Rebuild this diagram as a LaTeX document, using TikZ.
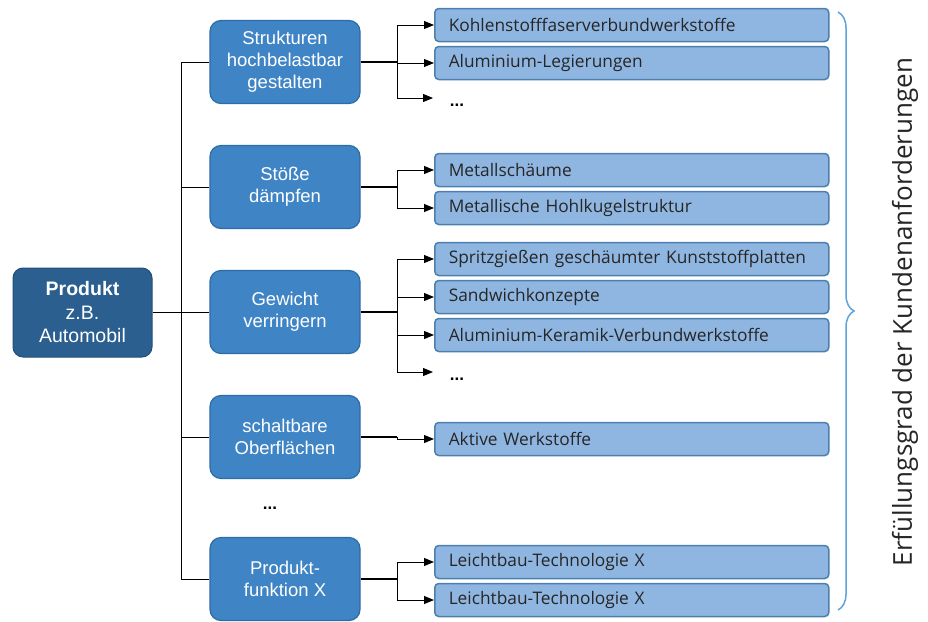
\documentclass[tikz,border=0pt]{standalone}
\usepackage{fontspec}
\setmainfont{Liberation Sans}
\newfontfamily\itemfont{Open Sans}
\usetikzlibrary{arrows.meta,decorations.pathreplacing}
\definecolor{prodblue}{HTML}{2A5F8F}
\definecolor{prodedge}{HTML}{22507A}
\definecolor{funcblue}{HTML}{3F84C5}
\definecolor{funcedge}{HTML}{2E6CA6}
\definecolor{itemblue}{HTML}{8FB6E1}
\definecolor{itemedge}{HTML}{4C7FAE}
\definecolor{itemtext}{HTML}{262626}
\definecolor{bracecol}{HTML}{5DA4DD}
\tikzset{
  x=1pt, y=-1pt,
  prodbox/.style={draw=prodedge, line width=1pt, fill=prodblue, rounded corners=10pt,
    minimum width=139pt, minimum height=89pt, text=white, align=center,
    font=\fontsize{19.5}{23.5}\selectfont, inner sep=0pt},
  funcbox/.style={draw=funcedge, line width=1.2pt, fill=funcblue, rounded corners=11pt,
    minimum width=150pt, minimum height=83pt, text=white, align=center,
    font=\fontsize{18.5}{22}\selectfont, inner sep=0pt},
  itembox/.style={draw=itemedge, line width=1.5pt, fill=itemblue, rounded corners=4pt,
    minimum width=394pt, minimum height=33pt, anchor=west, text=itemtext,
    font=\itemfont\fontsize{17.3}{20}\selectfont, text width=366pt, align=left,
    inner xsep=14pt},
  dots/.style={font=\bfseries\fontsize{17}{17}\selectfont},
  link/.style={line width=1.8pt},
  trunk/.style={line width=1pt},
  feed/.style={line width=1pt, -{Triangle[length=10pt,width=8pt]}},
}
\begin{document}
\begin{tikzpicture}
\useasboundingbox (0,0) rectangle (928,621);

% root product
\node[prodbox] (prod) at (82.5,312.5) {\textbf{Produkt}\\z.B.\\Automobil};

% product functions
\node[funcbox] (f1) at (285,62)  {Strukturen\\hochbelastbar\\gestalten};
\node[funcbox] (f2) at (285,187) {Stöße\\dämpfen};
\node[funcbox] (f3) at (285,312) {Gewicht\\verringern};
\node[funcbox] (f4) at (285,437) {schaltbare\\Oberflächen};
\node[dots] (fdots) at (270,508) {...};
\node[funcbox] (f5) at (285,579) {Produkt-\\funktion X};

% trunk
\coordinate (tt) at (181,62);
\coordinate (tb) at (181,579);
\coordinate (tm) at (181,312.5);
\draw[trunk] (tt) -- (tb);
\draw[link] (prod.east) -- (tm);
\foreach \f in {f1,f2,f3,f4,f5} \draw[trunk] (\f.west) -- (\f.west -| tt);

% technologies
\node[itembox] (a1) at (434,25)  {Kohlenstofffaserverbundwerkstoffe};
\node[itembox] (a2) at (434,63)  {Aluminium-Legierungen};
\coordinate (a3) at (433,98);
\node[dots] (a3t) at (457,105) {...};

\node[itembox] (b1) at (434,170) {Metallschäume};
\node[itembox] (b2) at (434,208) {Metallische Hohlkugelstruktur};

\node[itembox] (c1) at (434,259) {Spritzgießen geschäumter Kunststoffplatten};
\node[itembox] (c2) at (434,297) {Sandwichkonzepte};
\node[itembox] (c3) at (434,335) {Aluminium-Keramik-Verbundwerkstoffe};
\coordinate (c4) at (433,372);
\node[dots] (c4t) at (457,379) {...};

\node[itembox] (d1) at (434,439) {Aktive Werkstoffe};

\node[itembox] (e1) at (434,562) {Leichtbau-Technologie X};
\node[itembox] (e2) at (434,600) {Leichtbau-Technologie X};

% branches
\coordinate (s1) at (397,62);
\draw[link] (f1.east) -- (s1);
\draw[feed] (s1) |- (a1.west);
\draw[feed] (s1) |- (a2.west);
\draw[feed] (s1) |- (a3);

\coordinate (s2) at (397,187);
\draw[link] (f2.east) -- (s2);
\draw[feed] (s2) |- (b1.west);
\draw[feed] (s2) |- (b2.west);

\coordinate (s3) at (397,312);
\draw[link] (f3.east) -- (s3);
\draw[feed] (s3) |- (c1.west);
\draw[feed] (s3) |- (c2.west);
\draw[feed] (s3) |- (c3.west);
\draw[feed] (s3) |- (c4);

\coordinate (s4) at (397,437);
\draw[link] (f4.east) -- (s4);
\draw[feed] (s4) |- (d1.west);

\coordinate (s5) at (397,579);
\draw[link] (f5.east) -- (s5);
\draw[feed] (s5) |- (e1.west);
\draw[feed] (s5) |- (e2.west);

% bracket and caption
\coordinate (bt) at (838,12);
\coordinate (bb) at (838,610);
\draw[bracecol, line width=1.5pt, decorate,
  decoration={brace, amplitude=16pt, aspect=0.5}] (bt) -- (bb);
\node[rotate=90, font=\itemfont\fontsize{26}{30}\selectfont, text=black!85]
  (cap) at (905,312) {Erfüllungsgrad der Kundenanforderungen};
\end{tikzpicture}
\end{document}
